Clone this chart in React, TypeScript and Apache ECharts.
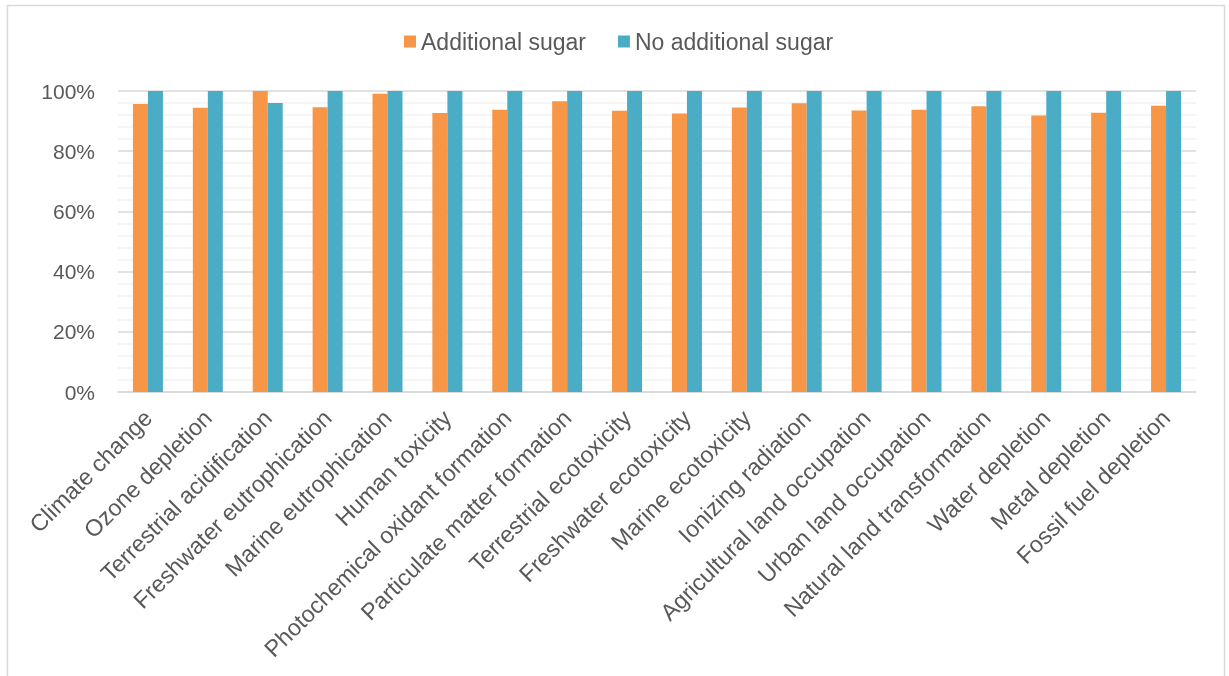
import React, { useEffect, useRef } from "react";
import * as echarts from "echarts";

const categories = [
  "Climate change",
  "Ozone depletion",
  "Terrestrial acidification",
  "Freshwater eutrophication",
  "Marine eutrophication",
  "Human toxicity",
  "Photochemical oxidant formation",
  "Particulate matter formation",
  "Terrestrial ecotoxicity",
  "Freshwater ecotoxicity",
  "Marine ecotoxicity",
  "Ionizing radiation",
  "Agricultural land occupation",
  "Urban land occupation",
  "Natural land transformation",
  "Water depletion",
  "Metal depletion",
  "Fossil fuel depletion",
];

const additionalSugar = [
  95.7, 94.4, 100, 94.6, 99.1, 92.7, 93.8, 96.6, 93.4, 92.5, 94.5, 95.9, 93.5, 93.8, 94.9, 91.9, 92.8, 95.1,
];

const noAdditionalSugar = [
  100, 100, 96.0, 100, 100, 100, 100, 100, 100, 100, 100, 100, 100, 100, 100, 100, 100, 100,
];

const seriesNames = ["Additional sugar", "No additional sugar"];

const FONT = "'Liberation Sans', Arial, sans-serif";
const TEXT = "#595959";

export default function App() {
  const ref = useRef<HTMLDivElement>(null);

  useEffect(() => {
    if (!ref.current) return;
    const chart = echarts.init(ref.current, null, { renderer: "svg" });
    chart.setOption({
      animation: false,
      textStyle: { fontFamily: FONT },
      graphic: [
        {
          type: "rect",
          shape: { x: 7.5, y: 5.5, width: 1217, height: 700 },
          style: { fill: "none", stroke: "#d9d9d9", lineWidth: 1.5 },
          silent: true,
        },
      ],
      legend: {
        top: 25,
        left: 399,
        itemWidth: 12,
        itemHeight: 12,
        itemGap: 32,
        icon: "rect",
        textStyle: { fontSize: 23, color: TEXT, fontFamily: FONT },
        data: seriesNames,
      },
      grid: { left: 118, right: 33, top: 91, bottom: 284, containLabel: false },
      xAxis: {
        type: "category",
        data: categories,
        axisLine: { lineStyle: { color: "#d9d9d9", width: 1.5 } },
        axisTick: { show: false },
        axisLabel: {
          interval: 0,
          rotate: 45,
          fontSize: 23.3,
          color: TEXT,
          fontFamily: FONT,
          margin: 22,
        },
      },
      yAxis: {
        type: "value",
        min: 0,
        max: 100,
        interval: 20,
        axisLine: { show: false },
        axisTick: { show: false },
        axisLabel: {
          formatter: "{value}%",
          fontSize: 21,
          color: TEXT,
          fontFamily: FONT,
          margin: 23,
        },
        splitLine: { lineStyle: { color: "#d9d9d9", width: 1.5 } },
        minorTick: { show: false, splitNumber: 5 },
        minorSplitLine: { show: true, lineStyle: { color: "#f2f2f2", width: 1.5 } },
      },
      series: [
        {
          name: seriesNames[0],
          type: "bar",
          data: additionalSugar,
          barWidth: 15,
          barGap: "0%",
          itemStyle: { color: "#F79646" },
        },
        {
          name: seriesNames[1],
          type: "bar",
          data: noAdditionalSugar,
          barWidth: 15,
          itemStyle: { color: "#4BACC6" },
        },
      ],
    });
    return () => chart.dispose();
  }, []);

  return (
    <div
      ref={ref}
      style={{ position: "fixed", left: 0, top: 0, width: 1229, height: 676 }}
    />
  );
}
